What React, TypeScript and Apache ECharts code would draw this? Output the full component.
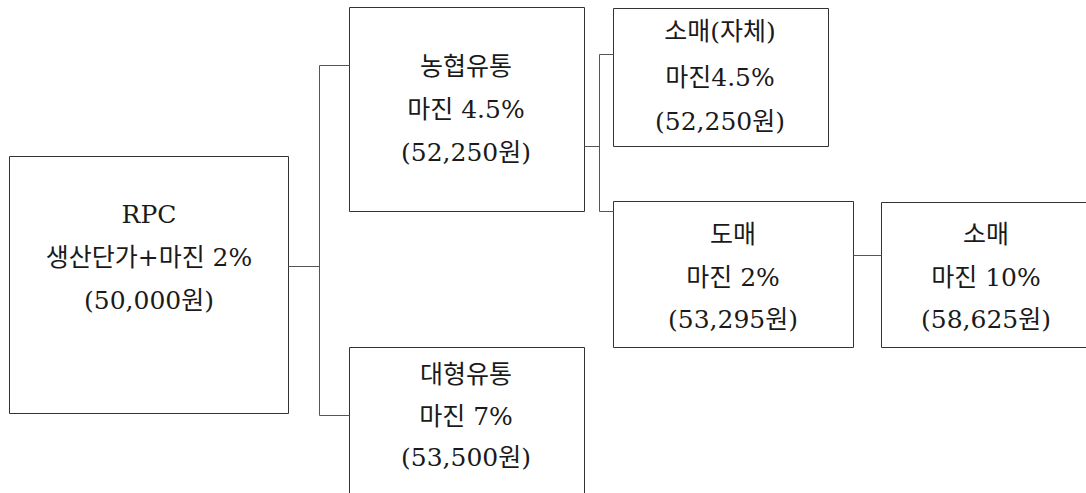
import React, { useEffect, useRef } from "react";
import * as echarts from "echarts";

// ---- data ----
const nodeNames = ["RPC", "농협유통", "대형유통", "소매(자체)", "도매", "소매"];
const marginLabels = ["생산단가+마진 2%", "마진 4.5%", "마진 7%", "마진4.5%", "마진 2%", "마진 10%"];
const prices = [50000, 52250, 53500, 52250, 53295, 58625];
// parent index of each node (-1 = root)
const parents = [-1, 0, 0, 1, 1, 4];

// ---- layout (pixels) ----
type Box = { x0: number; y0: number; x1: number; y1: number; cx: number; ty: number[] };
const boxes: Box[] = [
  { x0: 9, y0: 156, x1: 288, y1: 413, cx: 149, ty: [214, 257, 300] },
  { x0: 349, y0: 7, x1: 584, y1: 211, cx: 466, ty: [66, 109, 152] },
  { x0: 349, y0: 347, x1: 584, y1: 520, cx: 466, ty: [374, 416, 457] },
  { x0: 613, y0: 8, x1: 828, y1: 146, cx: 720, ty: [31, 77, 121] },
  { x0: 613, y0: 201, x1: 853, y1: 347, cx: 733, ty: [234, 277, 319] },
  { x0: 881, y0: 202, x1: 1095, y1: 347, cx: 986, ty: [234, 277, 319] },
];

const connectors: number[][][] = [
  [[288, 266], [319, 266]],
  [[319, 65], [319, 415]],
  [[319, 65], [349, 65]],
  [[319, 415], [349, 415]],
  [[584, 146], [599, 146]],
  [[599, 54], [599, 211]],
  [[599, 54], [613, 54]],
  [[599, 211], [613, 211]],
  [[853, 255], [881, 255]],
];

const fontFamily = "'DejaVu Serif', 'Noto Sans CJK KR', serif";

function fmtPrice(v: number) {
  return "(" + v.toLocaleString("en-US") + "원)";
}

export default function App() {
  const ref = useRef<HTMLDivElement>(null);
  useEffect(() => {
    document.body.style.margin = "0";
    if (!ref.current) return;
    const chart = echarts.init(ref.current, undefined, { renderer: "svg" });
    const elements: any[] = [];
    const h = (v: number) => Math.round(v) + 0.5;
    boxes.forEach((b, i) => {
      elements.push({
        type: "rect",
        shape: { x: h(b.x0), y: h(b.y0), width: b.x1 - b.x0, height: b.y1 - b.y0 },
        style: { fill: "#fff", stroke: "#333", lineWidth: 1 },
        silent: true,
      });
      const lines = [nodeNames[i], marginLabels[i], fmtPrice(prices[i])];
      lines.forEach((t, k) => {
        elements.push({
          type: "text",
          x: b.cx,
          y: b.ty[k],
          style: {
            text: t,
            fontSize: 25,
            fontFamily,
            fill: "#1a1a1a",
            textAlign: "center",
            textVerticalAlign: "middle",
          },
          silent: true,
        });
      });
    });
    connectors.forEach((c) => {
      elements.push({
        type: "polyline",
        shape: { points: c.map(([x, y]) => [h(x), h(y)]) },
        style: { stroke: "#555", lineWidth: 1, fill: "none" },
        silent: true,
      });
    });
    void parents;
    chart.setOption({
      animation: false,
      backgroundColor: "#fff",
      graphic: { elements },
    });
    return () => chart.dispose();
  }, []);
  return <div ref={ref} style={{ width: 1086, height: 493 }} />;
}
